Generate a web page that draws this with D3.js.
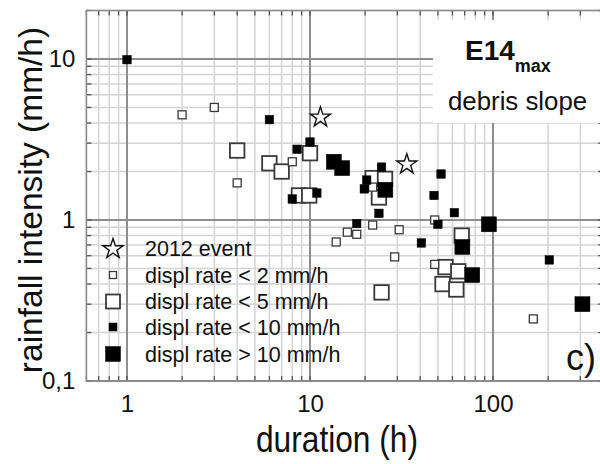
<!DOCTYPE html>
<html>
<head>
<meta charset="utf-8">
<script src="https://cdn.jsdelivr.net/npm/d3@7"></script>
<style>
  html, body { margin: 0; padding: 0; background: #fff; }
  svg { display: block; }
  text { font-family: "Liberation Sans", Arial, Helvetica, sans-serif; fill: #111; }
</style>
</head>
<body>
<svg id="chart" width="600" height="464"></svg>
<script>
// Rainfall duration (h) vs mean intensity (mm/h), grouped by displacement rate
const rateBelow2 = [[2,4.5],[3,5.0],[4,1.7],[8,2.3],[22,1.6],[13.9,0.73],[16,0.84],[18,0.815],
  [22,0.93],[30.7,0.87],[29,0.59],[48,1.0],[48,0.53],[166,0.243]];
const rateBelow5 = [[4,2.7],[6,2.25],[7,2.0],[10,2.6],[8.7,1.42],[9.9,1.42],[22,1.82],[25.7,1.8],
  [23.8,1.38],[24.6,0.355],[67.5,0.8],[55,0.51],[64.6,0.48],[53,0.40],[63,0.37]];
const rateBelow10 = [[1,9.9],[6,4.2],[8.5,2.75],[10,3.05],[8,1.35],[10.9,1.47],[20.4,1.77],[19.8,1.56],
  [24.6,2.13],[23.8,1.1],[52,1.93],[47.6,1.42],[61.5,1.11],[50,0.94],[40.6,0.72],[18,0.95],[203,0.565]];
const rateAbove10 = [[13.5,2.3],[15,2.1],[25.8,1.54],[95,0.94],[68,0.68],[77,0.455],[308,0.30]];
const event2012 = [[11.4,4.4],[33.8,2.25]];

const xTickValues = [1, 10, 100];
const xTickLabels = ["1", "10", "100"];
const yTickValues = [0.1, 1, 10];
const yTickLabels = ["0,1", "1", "10"];

const legendLabels = ["2012 event", "displ rate < 2 mm/h", "displ rate < 5 mm/h",
  "displ rate < 10 mm/h", "displ rate > 10 mm/h"];

const svg = d3.select("#chart");

const x = d3.scaleLog().domain([0.6, 400]).range([86.4, 603.2]);
const y = d3.scaleLog().domain([0.1, 20]).range([381, 10.5]);
const [x0, x1] = x.range();
const [y0, y1] = y.range();

// gridlines at every 1..9 multiple of each decade
const xGrid = [0.6,0.7,0.8,0.9,1,2,3,4,5,6,7,8,9,10,20,30,40,50,60,70,80,90,100,200,300,400];
const yGrid = [0.1,0.2,0.3,0.4,0.5,0.6,0.7,0.8,0.9,1,2,3,4,5,6,7,8,9,10,20];
const isMajor = v => Math.abs(Math.log10(v) - Math.round(Math.log10(v))) < 1e-9;

const grid = svg.append("g");
grid.selectAll(".gx").data(xGrid.filter(v => !isMajor(v))).join("line")
  .attr("x1", d => x(d)).attr("x2", d => x(d)).attr("y1", y0).attr("y2", y1)
  .attr("stroke", "#d4d4d4").attr("stroke-width", 1.5);
grid.selectAll(".gy").data(yGrid.filter(v => !isMajor(v))).join("line")
  .attr("y1", d => y(d)).attr("y2", d => y(d)).attr("x1", x0).attr("x2", x1)
  .attr("stroke", "#d4d4d4").attr("stroke-width", 1.5);
grid.selectAll(".gxm").data(xGrid.filter(isMajor)).join("line")
  .attr("x1", d => x(d)).attr("x2", d => x(d)).attr("y1", y0).attr("y2", y1)
  .attr("stroke", "#8e8e8e").attr("stroke-width", 2);
grid.selectAll(".gym").data(yGrid.filter(isMajor)).join("line")
  .attr("y1", d => y(d)).attr("y2", d => y(d)).attr("x1", x0).attr("x2", x1)
  .attr("stroke", "#8e8e8e").attr("stroke-width", 2);

// inward ticks along the frame
const tickLen = 5;
const ticks = svg.append("g").attr("stroke", "#555").attr("stroke-width", 1.3);
xGrid.forEach(v => {
  ticks.append("line").attr("x1", x(v)).attr("x2", x(v)).attr("y1", y1).attr("y2", y1 + tickLen);
  ticks.append("line").attr("x1", x(v)).attr("x2", x(v)).attr("y1", y0).attr("y2", y0 - tickLen);
});
yGrid.forEach(v => {
  ticks.append("line").attr("y1", y(v)).attr("y2", y(v)).attr("x1", x0).attr("x2", x0 + tickLen);
  ticks.append("line").attr("y1", y(v)).attr("y2", y(v)).attr("x1", x1).attr("x2", x1 - tickLen);
});

// frame
svg.append("rect").attr("x", x0).attr("y", y1).attr("width", x1 - x0).attr("height", y0 - y1)
  .attr("fill", "none").attr("stroke", "#8a8a8a").attr("stroke-width", 1.5);

// axes labels via d3 axes
const xAxis = d3.axisBottom(x).tickValues(xTickValues)
  .tickFormat((d, i) => xTickLabels[i]).tickSize(0).tickPadding(14);
svg.append("g").attr("transform", `translate(0,${y0})`).call(xAxis)
  .call(g => g.select(".domain").remove())
  .selectAll("text").attr("font-size", 24).attr("fill", "#111")
  .style("font-family", '"Liberation Sans", Arial, sans-serif');

const yAxis = d3.axisLeft(y).tickValues(yTickValues)
  .tickFormat((d, i) => yTickLabels[i]).tickSize(0).tickPadding(11);
svg.append("g").attr("transform", `translate(${x0},0)`).call(yAxis)
  .call(g => g.select(".domain").remove())
  .selectAll("text").attr("font-size", 24).attr("fill", "#111")
  .style("font-family", '"Liberation Sans", Arial, sans-serif');

// axis titles
svg.append("text").attr("x", 337).attr("y", 452).attr("text-anchor", "middle")
  .attr("font-size", 37).attr("textLength", 162).attr("lengthAdjust", "spacingAndGlyphs")
  .text("duration (h)");
svg.append("text").attr("transform", "translate(42,200) rotate(-90)")
  .attr("text-anchor", "middle").attr("font-size", 33.5)
  .text("rainfall intensity (mm/h)");

// title box
svg.append("rect").attr("x", 433).attr("y", 20).attr("width", 170).attr("height", 103).attr("fill", "#fff");
const t = svg.append("text").attr("x", 465).attr("y", 60).attr("font-weight", "bold");
t.append("tspan").attr("font-size", 28).text("E14");
t.append("tspan").attr("font-size", 18).attr("dy", 12).text("max");
svg.append("text").attr("x", 448).attr("y", 110).attr("font-size", 25.8).text("debris slope");

// panel letter
svg.append("text").attr("x", 566).attr("y", 370).attr("font-size", 36).text("c)");

// data marks
const marks = svg.append("g");
function squares(data, side, filled) {
  marks.append("g").selectAll("rect").data(data).join("rect")
    .attr("x", d => x(d[0]) - side / 2).attr("y", d => y(d[1]) - side / 2)
    .attr("width", side).attr("height", side)
    .attr("fill", filled ? "#000" : "#fff")
    .attr("stroke", filled ? "#000" : "#3a3a3a")
    .attr("stroke-width", filled ? 0.5 : (side > 10 ? 1.8 : 1.3));
}
squares(rateBelow5, 14.5, false);
squares(rateBelow2, 8, false);
squares(rateBelow10, 8.5, true);
squares(rateAbove10, 15, true);

const star = d3.symbol().type(d3.symbolStar).size(125);
marks.append("g").selectAll("path").data(event2012).join("path")
  .attr("transform", d => `translate(${x(d[0])},${y(d[1]) + 1})`)
  .attr("d", star).attr("fill", "#fff").attr("stroke", "#111").attr("stroke-width", 1.4);

// legend
const legRows = [248, 275, 301.5, 327, 354];
const leg = svg.append("g");
leg.append("path").attr("transform", `translate(113,${legRows[0] + 1})`)
  .attr("d", star).attr("fill", "#fff").attr("stroke", "#111").attr("stroke-width", 1.4);
const legSquares = [[7, false], [14, false], [8, true], [15, true]];
legSquares.forEach(([s, f], i) => {
  leg.append("rect").attr("x", 113 - s / 2).attr("y", legRows[i + 1] - s / 2)
    .attr("width", s).attr("height", s).attr("fill", f ? "#000" : "#fff")
    .attr("stroke", f ? "#000" : "#3a3a3a").attr("stroke-width", f ? 0.5 : (s > 10 ? 1.8 : 1.3));
});
leg.selectAll("text").data(legendLabels).join("text")
  .attr("x", 145).attr("y", (d, i) => legRows[i] + 7.5).attr("font-size", 21.5).text(d => d);
</script>
</body>
</html>
